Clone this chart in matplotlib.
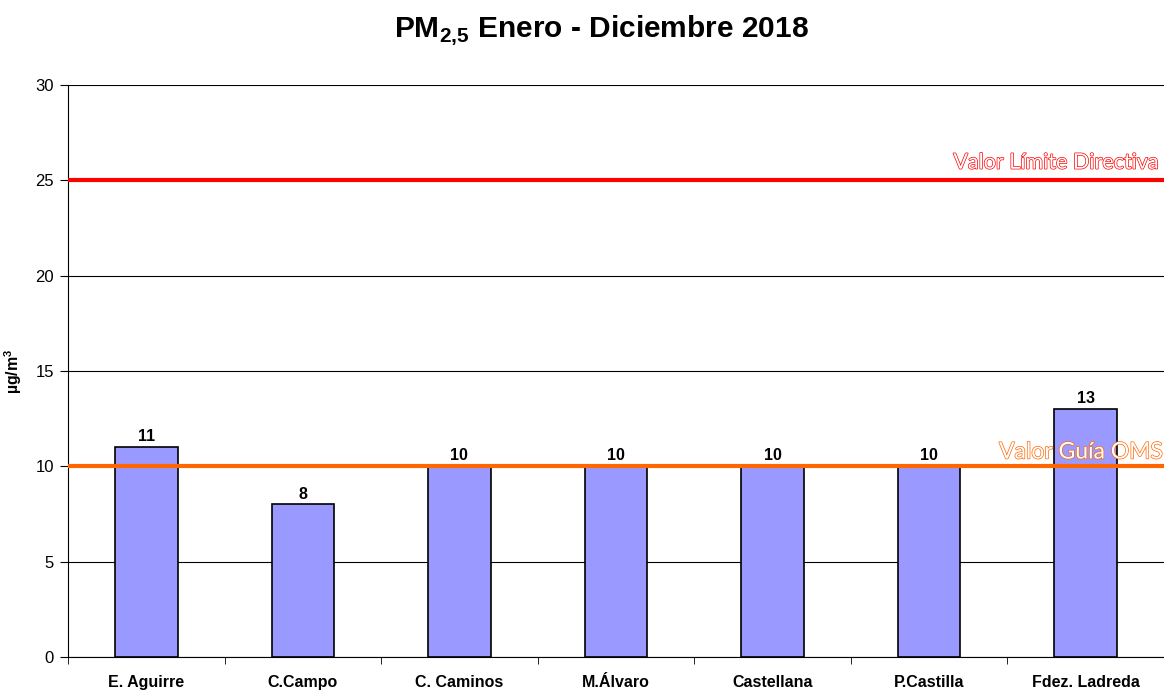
import numpy as np
import matplotlib.pyplot as plt
import matplotlib.patheffects as pe

estaciones = ["E. Aguirre", "C.Campo", "C. Caminos", "M.Álvaro", "Castellana", "P.Castilla", "Fdez. Ladreda"]
valores = [11, 8, 10, 10, 10, 10, 13]
limite_directiva = 25
guia_oms = 10

plt.rcParams['font.family'] = ['Liberation Sans', 'DejaVu Sans']
plt.rcParams['mathtext.fontset'] = 'custom'
plt.rcParams['mathtext.rm'] = 'Liberation Sans'
plt.rcParams['mathtext.bf'] = 'Liberation Sans:bold'

fig = plt.figure(figsize=(11.64, 6.91), dpi=100)
ax = fig.add_axes([68 / 1164, 1 - 657 / 691, 1 - 68 / 1164, (657 - 85) / 691])

x = np.arange(len(estaciones))
ax.set_axisbelow(True)
ax.yaxis.grid(True, color='#000000', linewidth=0.8)
ax.bar(x, valores, width=0.4, color='#9999FF', edgecolor='black', linewidth=1.2, zorder=2)
for xi, v in zip(x, valores):
    ax.text(xi, v + 0.15, str(v), ha='center', va='bottom', fontsize=11.5, fontweight='bold', zorder=4)

ax.axhline(limite_directiva, color='#FF0000', linewidth=3, zorder=3)
ax.axhline(guia_oms, color='#FF6600', linewidth=3, zorder=3)

ax.text(0.9955, limite_directiva + 0.4, "Valor Límite Directiva", transform=ax.get_yaxis_transform(),
        ha='right', va='bottom', fontsize=15.5, family=['Lato', 'DejaVu Sans'], color='white',
        path_effects=[pe.withStroke(linewidth=1.0, foreground='#FF0000')], zorder=5)
ax.text(0.999, guia_oms + 0.2, "Valor Guía OMS", transform=ax.get_yaxis_transform(),
        ha='right', va='bottom', fontsize=16.5, family=['Lato', 'DejaVu Sans'], color='white',
        path_effects=[pe.withStroke(linewidth=1.0, foreground='#FF6600')], zorder=5)

ax.set_xlim(-0.5, len(estaciones) - 0.5)
ax.set_ylim(0, 30)
ax.set_yticks(np.arange(0, 31, 5))
ax.set_xticks(x)
ax.set_xticklabels(estaciones, fontsize=11.5, fontweight='bold')
ax.set_xticks(np.arange(-0.5, len(estaciones), 1), minor=True)
ax.tick_params(axis='x', which='major', length=0, pad=13)
ax.tick_params(axis='x', which='minor', length=5, direction='out')
ax.tick_params(axis='y', labelsize=12, length=6, direction='out', pad=4)

for s in ['top', 'right']:
    ax.spines[s].set_visible(False)
ax.spines['left'].set_linewidth(0.8)
ax.spines['bottom'].set_linewidth(0.8)

ax.set_ylabel("µg/m$^\\mathbf{3}$", fontsize=11.5, fontweight='bold')
ax.yaxis.set_label_coords(-44 / 1096, 0.5)

fig.text(601 / 1164, 1 - 30 / 691, "PM$_{\\mathbf{2{,}5}}$ Enero - Diciembre 2018", ha='center', va='center',
         fontsize=21.5, fontweight='bold')

fig.savefig("out.png", dpi=100)
